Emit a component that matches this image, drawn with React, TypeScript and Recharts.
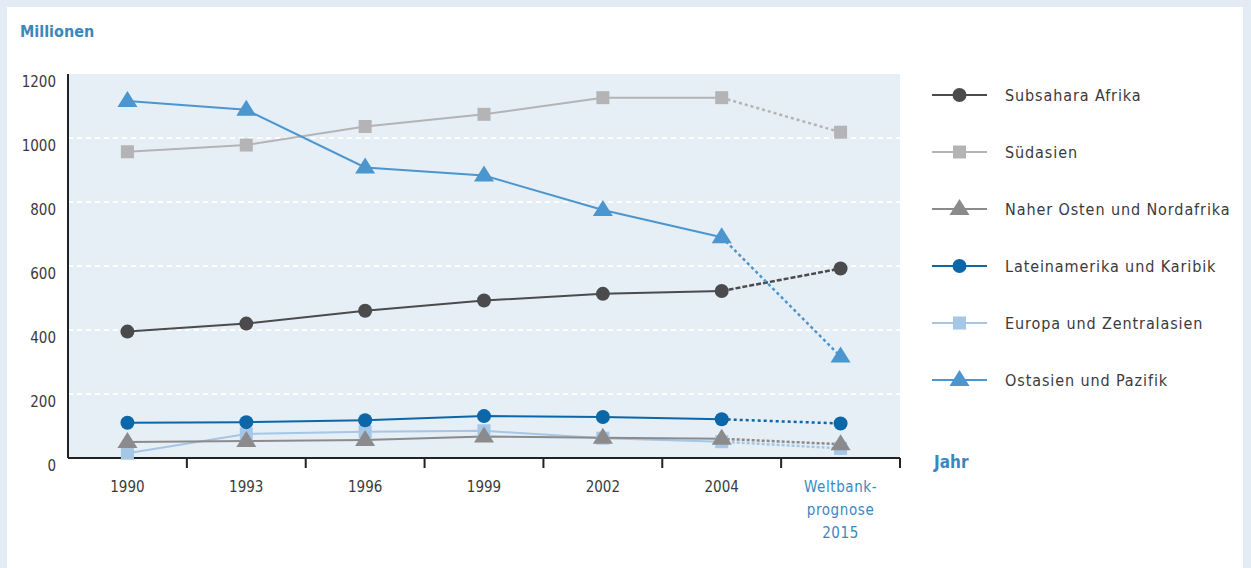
import React from "react"
import { LineChart, Line, XAxis, YAxis, CartesianGrid } from "recharts"

if (typeof document !== "undefined") document.body.style.margin = "0"

// Categories (last one is the World Bank forecast)
const categories = ["1990", "1993", "1996", "1999", "2002", "2004", "Weltbank-\nprognose\n2015"]
const yTicks = [0, 200, 400, 600, 800, 1000, 1200]
const gridValues = [200, 400, 600, 800, 1000]

// Millionen Menschen
const subsahara = [395, 420, 460, 492, 513, 522, 592]
const suedasien = [957, 978, 1036, 1074, 1126, 1126, 1018]
const naherOsten = [50, 53, 56, 67, 63, 60, 43]
const lateinamerika = [110, 112, 118, 131, 128, 121, 108]
const europa = [15, 75, 82, 85, 62, 51, 30]
const ostasien = [1116, 1088, 908, 883, 775, 690, 317]

type Shape = "circle" | "square" | "triangle"

const series: { key: string; name: string; values: number[]; color: string; shape: Shape; dash: string }[] = [
  { key: "ssa", name: "Subsahara Afrika", values: subsahara, color: "#4b4b4d", shape: "circle", dash: "5 2" },
  { key: "sas", name: "Südasien", values: suedasien, color: "#b4b4b6", shape: "square", dash: "3 3" },
  { key: "mena", name: "Naher Osten und Nordafrika", values: naherOsten, color: "#8b8b8d", shape: "triangle", dash: "3 2" },
  { key: "lac", name: "Lateinamerika und Karibik", values: lateinamerika, color: "#0b67a8", shape: "circle", dash: "3 3" },
  { key: "eca", name: "Europa und Zentralasien", values: europa, color: "#a6c6e5", shape: "square", dash: "3 2" },
  { key: "eap", name: "Ostasien und Pazifik", values: ostasien, color: "#4b96cf", shape: "triangle", dash: "3 3" },
]

// draw order in the plot (later = on top)
const drawOrder = ["sas", "ssa", "eca", "mena", "lac", "eap"]

const LAST = categories.length - 1
const data = categories.map((label, i) => {
  const row: Record<string, any> = { x: i + 0.5, label }
  series.forEach((s) => {
    row[s.key] = i < LAST ? s.values[i] : null
    row[s.key + "P"] = i >= LAST - 1 ? s.values[i] : null
  })
  return row
})

const FONT = "'DejaVu Sans Condensed', 'DejaVu Sans', sans-serif"
const TEXT = "#3a3a3c"
const BLUE = "#3a87bf"

function Marker({ cx, cy, shape, color }: { cx: number; cy: number; shape: Shape; color: string }) {
  if (shape === "circle") return <circle cx={cx} cy={cy} r={7} fill={color} />
  if (shape === "square") return <rect x={cx - 6.5} y={cy - 6.5} width={13} height={13} fill={color} />
  return <polygon points={`${cx},${cy - 10} ${cx + 10},${cy + 6} ${cx - 10},${cy + 6}`} fill={color} />
}

function makeDot(shape: Shape, color: string, onlyLast: boolean) {
  return (props: any) => {
    const { cx, cy, index } = props
    const k = `${color}-${index}-${onlyLast}`
    if (cy == null || (onlyLast && index !== LAST)) return <g key={k} />
    return (
      <g key={k}>
        <Marker cx={cx} cy={cy} shape={shape} color={color} />
      </g>
    )
  }
}

const XTick = (props: any) => {
  const { x, y, payload } = props
  const v = payload.value as number
  if (Number.isInteger(v)) {
    return <line x1={x} x2={x} y1={y} y2={y + 10} stroke="#222" strokeWidth={2} />
  }
  const idx = Math.floor(v)
  const lines = categories[idx].split("\n")
  const isForecast = idx === LAST
  return (
    <text
      x={x}
      y={y + 34}
      textAnchor="middle"
      fontFamily={FONT}
      fontSize={15}
      fill={isForecast ? BLUE : TEXT}
      letterSpacing={isForecast ? 0.6 : 0}
    >
      {lines.map((l, i) => (
        <tspan key={i} x={x} dy={i === 0 ? 0 : 23}>
          {l}
        </tspan>
      ))}
    </text>
  )
}

const YTick = (props: any) => {
  const { x, y, payload } = props
  return (
    <text x={x} y={y + 13} textAnchor="end" fontFamily={FONT} fontSize={15} fill={TEXT}>
      {payload.value}
    </text>
  )
}

const xTicks = [0.5, 1, 1.5, 2, 2.5, 3, 3.5, 4, 4.5, 5, 5.5, 6, 6.5, 7]

export default function App() {
  return (
    <div style={{ position: "relative", width: 1251, height: 568, background: "#e3ecf5", overflow: "hidden" }}>
      <div style={{ position: "absolute", left: 7, top: 7, right: 8, bottom: 0, background: "#fff" }} />

      <div style={{ position: "absolute", left: 20, top: 22, fontFamily: FONT, fontSize: 16, fontWeight: "bold", color: BLUE }}>
        Millionen
      </div>
      <div style={{ position: "absolute", left: 934, top: 452, fontFamily: FONT, fontSize: 17, fontWeight: "bold", color: BLUE }}>
        Jahr
      </div>

      <div style={{ position: "absolute", left: 0, top: 0 }}>
        <LineChart width={1251} height={568} data={data} margin={{ top: 74, right: 351, bottom: 70, left: 8 }}>
          <CartesianGrid
            vertical={false}
            horizontalValues={gridValues}
            stroke="#ffffff"
            strokeWidth={2}
            strokeDasharray="5 4"
            fill="#e6eef6"
            fillOpacity={1}
          />
          <XAxis
            dataKey="x"
            type="number"
            domain={[0, 7]}
            ticks={xTicks}
            interval={0}
            tickLine={false}
            tickSize={0}
            tickMargin={0}
            height={40}
            axisLine={{ stroke: "#222", strokeWidth: 2 }}
            tick={<XTick />}
          />
          <YAxis
            domain={[0, 1200]}
            ticks={yTicks}
            width={60}
            tickLine={false}
            tickSize={0}
            tickMargin={12}
            axisLine={{ stroke: "#222", strokeWidth: 2 }}
            tick={<YTick />}
          />
          {drawOrder.map((k) => {
            const s = series.find((q) => q.key === k)!
            return [
              <Line
                key={k + "P"}
                dataKey={k + "P"}
                stroke={s.color}
                strokeWidth={2.5}
                strokeDasharray={s.dash}
                dot={makeDot(s.shape, s.color, true)}
                activeDot={false}
                isAnimationActive={false}
                connectNulls={false}
              />,
              <Line
                key={k}
                dataKey={k}
                stroke={s.color}
                strokeWidth={2}
                dot={makeDot(s.shape, s.color, false)}
                activeDot={false}
                isAnimationActive={false}
                connectNulls={false}
              />,
            ]
          })}
        </LineChart>
      </div>

      {series.map((s, i) => (
        <div
          key={s.key}
          style={{
            position: "absolute",
            left: 930,
            top: 95 + i * 57 - 12,
            height: 24,
            display: "flex",
            alignItems: "center",
          }}
        >
          <svg width={60} height={24}>
            <line x1={2} x2={57} y1={12} y2={12} stroke={s.color} strokeWidth={2} />
            <Marker cx={29.5} cy={12} shape={s.shape} color={s.color} />
          </svg>
          <span
            style={{
              marginLeft: 15,
              fontFamily: FONT,
              fontSize: 16,
              letterSpacing: 0.9,
              color: TEXT,
              whiteSpace: "nowrap",
            }}
          >
            {s.name}
          </span>
        </div>
      ))}
    </div>
  )
}
